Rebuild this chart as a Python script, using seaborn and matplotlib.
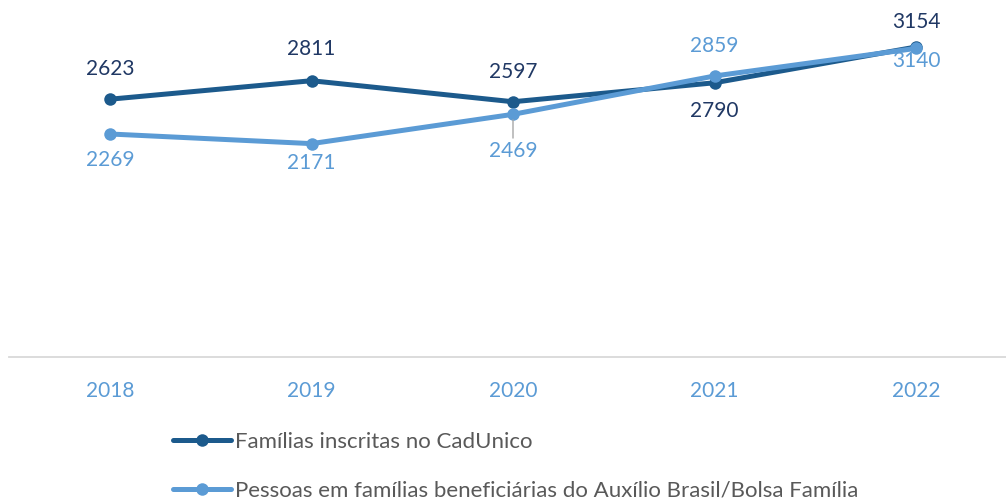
import matplotlib
matplotlib.use("Agg")
import matplotlib.pyplot as plt
import seaborn as sns

# =========================
# DATA
# =========================
anos = ["2018", "2019", "2020", "2021", "2022"]
familias_cadunico = [2623, 2811, 2597, 2790, 3154]
pessoas_auxilio = [2269, 2171, 2469, 2859, 3140]

label_cadunico = "Famílias inscritas no CadUnico"
label_auxilio = "Pessoas em famílias beneficiárias do Auxílio Brasil/Bolsa Família"

# label offsets in pixels (above/below the point)
off_cadunico = [30, 32, 30, -28, 25]
off_auxilio = [-26, -19, -37, 30, -13]

COR_ESCURA = "#1C5A8C"
COR_CLARA = "#5B9BD5"
COR_TEXTO_ESCURO = "#203864"

# =========================
# FIGURE
# =========================
sns.set_style("white")
plt.rcParams["font.family"] = ["Lato", "DejaVu Sans"]

fig = plt.figure(figsize=(10.06, 5.01), dpi=100)
ax = fig.add_axes([9.25 / 1006, 144 / 501, 1007.5 / 1006, 344 / 501])

sns.lineplot(x=anos, y=familias_cadunico, ax=ax, color=COR_ESCURA, linewidth=3.6,
             marker="o", markersize=9, markeredgewidth=0, label=label_cadunico, sort=False)
sns.lineplot(x=anos, y=pessoas_auxilio, ax=ax, color=COR_CLARA, linewidth=3.6,
             marker="o", markersize=9, markeredgewidth=0, label=label_auxilio, sort=False)

ax.set_xlim(-0.5, 4.5)
ax.set_ylim(0, 3500)

# data labels
for i, (ano, v) in enumerate(zip(anos, familias_cadunico)):
    ax.annotate(str(v), (i, v), xytext=(0, off_cadunico[i]), textcoords="offset pixels",
                ha="center", va="center", fontsize=15, color=COR_TEXTO_ESCURO)

for i, (ano, v) in enumerate(zip(anos, pessoas_auxilio)):
    arrow = None
    if i == 2:
        arrow = dict(arrowstyle="-", color="#A6A6A6", lw=1, shrinkA=0, shrinkB=4)
    ax.annotate(str(v), (i, v), xytext=(0, off_auxilio[i]), textcoords="offset pixels",
                ha="center", va="center", fontsize=15, color=COR_CLARA, arrowprops=arrow)

# axes styling
for s in ["top", "left", "right"]:
    ax.spines[s].set_visible(False)
ax.spines["bottom"].set_color("#D9D9D9")
ax.spines["bottom"].set_linewidth(1.3)
ax.set_yticks([])
ax.tick_params(axis="x", length=0, pad=17, labelsize=15, labelcolor=COR_CLARA)
ax.set_xlabel("")
ax.set_ylabel("")

handles, labels = ax.get_legend_handles_labels()
ax.legend(handles, labels, loc="upper left", bbox_to_anchor=(173 / 1006, 1 - 432 / 501),
          bbox_transform=fig.transFigure, frameon=False, fontsize=16,
          handlelength=2.6, handletextpad=0.18, labelspacing=1.3, labelcolor="#595959",
          borderaxespad=0, borderpad=0)

fig.savefig("out.png", dpi=100)
